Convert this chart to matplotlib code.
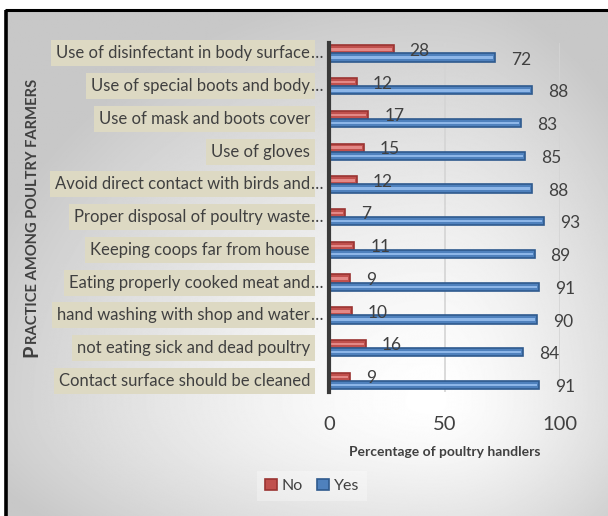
import numpy as np
import matplotlib
matplotlib.use("Agg")
import matplotlib.pyplot as plt
from matplotlib.transforms import offset_copy

plt.rcParams["font.family"] = ["Lato", "DejaVu Sans"]

# ── data ───────────────────────────────────────────────────────────────
practices = [
    "Use of disinfectant in body surface",
    "Use of special boots and body",
    "Use of mask and boots cover",
    "Use of gloves",
    "Avoid direct contact with birds and",
    "Proper disposal of poultry waste",
    "Keeping coops far from house",
    "Eating properly cooked meat and",
    "hand washing with shop and water",
    "not eating sick and dead poultry",
    "Contact surface should be cleaned",
]
truncated = [True, True, False, False, True, True, False, True, True, False, False]
no_pct = [28, 12, 17, 15, 12, 7, 11, 9, 10, 16, 9]
yes_pct = [72, 88, 83, 85, 88, 93, 89, 91, 90, 84, 91]
x_ticks = [0, 50, 100]

TEXT = "#404040"
LABEL_BG = "#DDD9C3"
RED, RED_EDGE, RED_HI = "#C0504D", "#9A3432", "#E38886"
BLUE, BLUE_EDGE, BLUE_HI = "#4F81BD", "#2F5A8E", "#8DB6E8"

W, H = 608, 516
fig = plt.figure(figsize=(W / 100, H / 100), dpi=100)

# ── background: off-centre soft gradient inside a black frame ──────────
bg = fig.add_axes([0, 0, 1, 1], zorder=-5)
bg.set_xlim(0, W)
bg.set_ylim(H, 0)
bg.axis("off")
gx, gy = np.meshgrid(np.arange(W), np.arange(H))
cx, cy = 430, 400
dx = np.where(gx < cx, (gx - cx) / 480.0, (gx - cx) / 260.0)
dy = np.where(gy < cy, (gy - cy) / 420.0, (gy - cy) / 200.0)
r = np.sqrt(dx ** 2 + dy ** 2)
shade = 1 - 0.215 * np.clip(r, 0, 1) ** 1.4
bg.imshow(shade, cmap="gray", vmin=0, vmax=1, extent=(6, W, H, 10),
          interpolation="bilinear", aspect="auto")
bg.plot([5, W], [10, 10], color="black", lw=2.2, solid_capstyle="butt")
bg.plot([6, 6], [10, H], color="black", lw=2.6, solid_capstyle="butt")

# ── main bar axes ──────────────────────────────────────────────────────
ax = fig.add_axes([329 / W, 1 - 392 / H, 231 / W, 349 / H])
ax.patch.set_alpha(0)

pos = np.arange(len(practices))
h = 0.25
y_no = pos - h / 2
y_yes = pos + h / 2

bars_no = ax.barh(y_no, no_pct, height=h, color=RED, edgecolor=RED_EDGE,
                  linewidth=1.2, label="No", zorder=3)
bars_yes = ax.barh(y_yes, yes_pct, height=h, color=BLUE, edgecolor=BLUE_EDGE,
                   linewidth=1.2, label="Yes", zorder=3)
# lighter stripe through the middle of each bar
ax.barh(y_no, np.array(no_pct) - 0.9, height=h * 0.3, color=RED_HI,
        linewidth=0, zorder=4)
ax.barh(y_yes, np.array(yes_pct) - 0.9, height=h * 0.3, color=BLUE_HI,
        linewidth=0, zorder=4)

for yv, v in zip(y_no, no_pct):
    ax.annotate(str(v), xy=(v, yv), xytext=(11.5, -1), textcoords="offset points",
                ha="left", va="center", fontsize=12.5, color=TEXT, zorder=5)
for yv, v in zip(y_yes, yes_pct):
    ax.annotate(str(v), xy=(v, yv), xytext=(11.5, -1.5), textcoords="offset points",
                ha="left", va="center", fontsize=12.5, color=TEXT, zorder=5)

ax.set_xlim(0, 100)
ax.set_ylim(10.34, -0.32)
ax.set_xticks(x_ticks)
ax.set_xticklabels([str(t) for t in x_ticks], fontsize=14.5, color=TEXT)
ax.tick_params(axis="x", length=0, pad=17)
ax.set_yticks([])
ax.grid(axis="x", color="#D4D4D4", lw=1.2, zorder=0)
for s in ["top", "right", "bottom"]:
    ax.spines[s].set_visible(False)
ax.spines["left"].set_color("#3A3A3A")
ax.spines["left"].set_linewidth(3)
ax.spines["left"].set_zorder(6)

ax.set_xlabel("Percentage of poultry handlers", fontsize=10, fontweight="bold",
              color=TEXT, labelpad=10)

# category labels on tan boxes, cut-off ones trail an ellipsis
ytr = ax.get_yaxis_transform()
lab_tr = offset_copy(ytr, fig=fig, x=-19, y=0, units="dots")
dots_tr = offset_copy(ytr, fig=fig, x=-18.5, y=0, units="dots")
for p, name, cut in zip(pos, practices, truncated):
    ax.text(0, p, name, transform=lab_tr, ha="right", va="center",
            fontsize=12, color=TEXT,
            bbox=dict(boxstyle="square,pad=0.3", fc=LABEL_BG, ec="none"))
    if cut:
        ax.text(0, p, "\u2026", transform=dots_tr, ha="left", va="center",
                fontsize=12, color=TEXT)

# legend
fig.legend(handles=[bars_no, bars_yes], labels=["No", "Yes"], ncol=2,
           loc="center", bbox_to_anchor=(312 / W, 1 - 486 / H),
           fontsize=11.5, labelcolor=TEXT, frameon=True, fancybox=False,
           facecolor="white", edgecolor="none", framealpha=0.3,
           handlelength=0.75, handleheight=0.75, handletextpad=0.3,
           columnspacing=0.9, borderpad=0.5)

# rotated axis title: large first capital, smaller caps after it
fig.canvas.draw()
renderer = fig.canvas.get_renderer()
title_x, title_y = 37, 357
first = bg.text(title_x, title_y, "P", rotation=90, rotation_mode="anchor",
                ha="left", va="baseline", fontsize=14.5, fontweight="bold",
                color=TEXT)
ext = first.get_window_extent(renderer)
bg.text(title_x, title_y - ext.height - 0.5, "RACTICE AMONG POULTRY FARMERS",
        rotation=90, rotation_mode="anchor", ha="left", va="baseline",
        fontsize=10.6, fontweight="bold", color=TEXT)

fig.savefig("out.png", dpi=100)
